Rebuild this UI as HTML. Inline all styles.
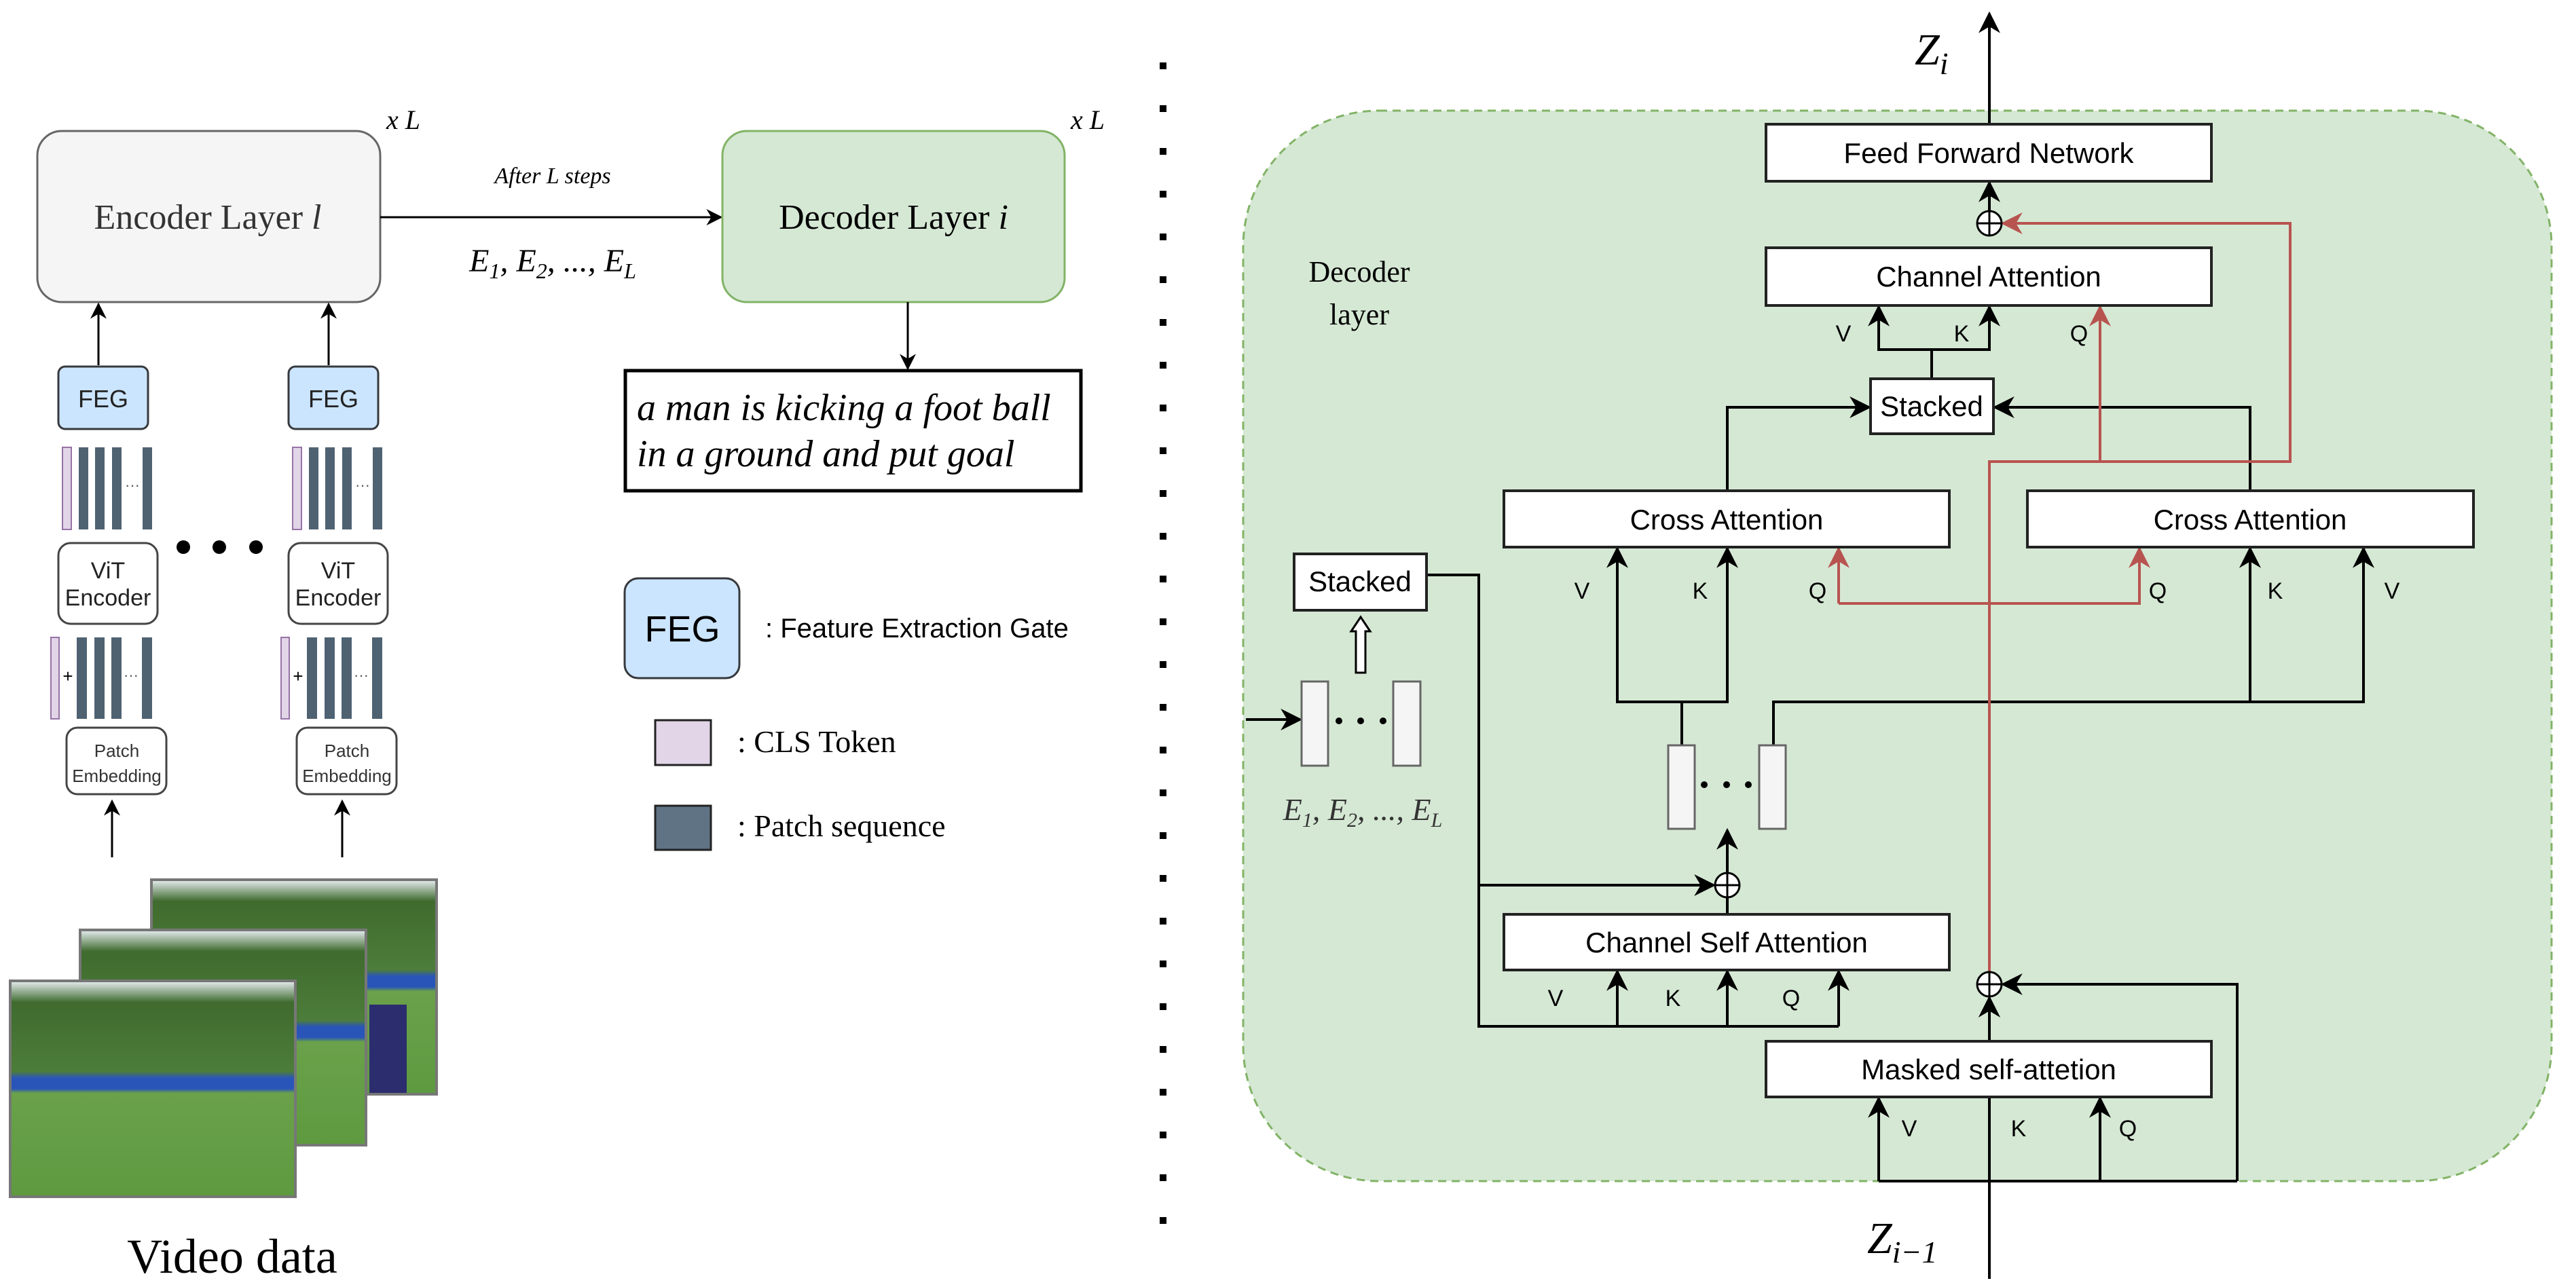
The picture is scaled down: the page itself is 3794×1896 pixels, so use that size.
<!DOCTYPE html>
<html><head><meta charset="utf-8"><style>html,body{margin:0;padding:0;background:#fff}svg{display:block}</style></head><body>
<svg xmlns="http://www.w3.org/2000/svg" width="3794" height="1896" viewBox="0 0 3794 1896">
<defs>
<marker id="ab" viewBox="0 0 10 10" refX="9" refY="5" markerWidth="8" markerHeight="8" orient="auto"><path d="M0,0 L10,5 L0,10 L3,5 z" fill="#000"/></marker>
<marker id="ar" viewBox="0 0 10 10" refX="9" refY="5" markerWidth="8" markerHeight="8" orient="auto"><path d="M0,0 L10,5 L0,10 L3,5 z" fill="#b85450"/></marker>
<linearGradient id="ph" x1="0" y1="0" x2="0" y2="1"><stop offset="0" stop-color="#e8eef2"/><stop offset="0.1" stop-color="#3f6b2e"/><stop offset="0.42" stop-color="#4d7d3a"/><stop offset="0.45" stop-color="#2a55b8"/><stop offset="0.5" stop-color="#2a55b8"/><stop offset="0.52" stop-color="#6aa14a"/><stop offset="1" stop-color="#5e9a40"/></linearGradient>
</defs>
<g font-family="Liberation Sans, sans-serif">
<!-- LEFT -->
<rect x="55" y="193" width="505" height="252" rx="36" fill="#f5f5f5" stroke="#666" stroke-width="3"/>
<text x="306" y="337" font-family="Liberation Serif, serif" font-size="52" fill="#333" text-anchor="middle">Encoder Layer <tspan font-style="italic">l</tspan></text>
<text x="569" y="190" font-family="Liberation Serif, serif" font-style="italic" font-size="40">x L</text>
<line x1="560" y1="320" x2="1062" y2="320" stroke="#000" stroke-width="3" marker-end="url(#ab)"/>
<text x="814" y="270" font-family="Liberation Serif, serif" font-style="italic" font-size="34" text-anchor="middle">After L steps</text>
<text x="814" y="400" font-family="Liberation Serif, serif" font-style="italic" font-size="48" text-anchor="middle">E<tspan font-size="32" dy="10">1</tspan><tspan dy="-10">, E</tspan><tspan font-size="32" dy="10">2</tspan><tspan dy="-10">, ..., E</tspan><tspan font-size="32" dy="10">L</tspan></text>
<rect x="1064" y="193" width="504" height="252" rx="36" fill="#d5e8d4" stroke="#82b366" stroke-width="3"/>
<text x="1316" y="337" font-family="Liberation Serif, serif" font-size="52" fill="#000" text-anchor="middle">Decoder Layer <tspan font-style="italic">i</tspan></text>
<text x="1577" y="190" font-family="Liberation Serif, serif" font-style="italic" font-size="40">x L</text>
<line x1="1337" y1="445" x2="1337" y2="543" stroke="#000" stroke-width="3" marker-end="url(#ab)"/>
<rect x="921" y="546" width="671" height="177" fill="#fff" stroke="#000" stroke-width="5"/>
<text x="938" y="619" font-family="Liberation Serif, serif" font-style="italic" font-size="56">a man is kicking a foot ball</text>
<text x="938" y="687" font-family="Liberation Serif, serif" font-style="italic" font-size="56">in a ground and put goal</text>

<g id="col">
<line x1="145" y1="538" x2="145" y2="448" stroke="#000" stroke-width="3" marker-end="url(#ab)"/>
<rect x="86" y="540" width="132" height="92" rx="10" fill="#cce5ff" stroke="#36393d" stroke-width="3"/>
<text x="152" y="600" font-size="36" text-anchor="middle" fill="#222">FEG</text>
<rect x="92" y="659" width="13" height="121" fill="#e1d5e7" stroke="#9673a6" stroke-width="2"/>
<rect x="116" y="659" width="14" height="121" fill="#4f6272"/>
<rect x="140" y="659" width="14" height="121" fill="#4f6272"/>
<rect x="165" y="659" width="14" height="121" fill="#4f6272"/>
<rect x="210" y="659" width="14" height="121" fill="#4f6272"/>
<text x="195" y="722" font-size="22" text-anchor="middle" fill="#555">···</text>
<rect x="86" y="800" width="146" height="119" rx="18" fill="#fff" stroke="#444" stroke-width="3"/>
<text x="159" y="852" font-size="34" text-anchor="middle" fill="#222">ViT</text>
<text x="159" y="892" font-size="34" text-anchor="middle" fill="#222">Encoder</text>
<rect x="75" y="939" width="12" height="120" fill="#e1d5e7" stroke="#9673a6" stroke-width="2"/>
<text x="100" y="1005" font-size="26" text-anchor="middle">+</text>
<rect x="113" y="939" width="15" height="120" fill="#4f6272"/>
<rect x="139" y="939" width="15" height="120" fill="#4f6272"/>
<rect x="164" y="939" width="15" height="120" fill="#4f6272"/>
<rect x="209" y="939" width="15" height="120" fill="#4f6272"/>
<text x="193" y="1002" font-size="22" text-anchor="middle" fill="#555">···</text>
<rect x="98" y="1072" width="147" height="98" rx="16" fill="#fff" stroke="#444" stroke-width="3"/>
<text x="172" y="1115" font-size="26" text-anchor="middle" fill="#333">Patch</text>
<text x="172" y="1152" font-size="26" text-anchor="middle" fill="#333">Embedding</text>
<line x1="165" y1="1263" x2="165" y2="1180" stroke="#000" stroke-width="3" marker-end="url(#ab)"/>
</g>
<use href="#col" transform="translate(339,0)"/>
<circle cx="270" cy="806" r="10"/><circle cx="323" cy="806" r="10"/><circle cx="377" cy="806" r="10"/>

<rect x="223" y="1296" width="420" height="316" fill="url(#ph)" stroke="#777" stroke-width="4"/>
<rect x="118" y="1370" width="421" height="317" fill="url(#ph)" stroke="#777" stroke-width="4"/>
<rect x="15" y="1445" width="420" height="318" fill="url(#ph)" stroke="#777" stroke-width="4"/>
<rect x="544" y="1480" width="55" height="130" fill="#2b2d6e"/>
<text x="342" y="1875" font-family="Liberation Serif, serif" font-size="72" text-anchor="middle">Video data</text>

<rect x="920" y="852" width="169" height="147" rx="20" fill="#cce5ff" stroke="#36393d" stroke-width="3"/>
<text x="1005" y="945" font-size="54" text-anchor="middle">FEG</text>
<text x="1127" y="939" font-size="40">: Feature Extraction Gate</text>
<rect x="965" y="1061" width="82" height="66" fill="#e1d5e7" stroke="#222" stroke-width="3"/>
<text x="1086" y="1108" font-family="Liberation Serif, serif" font-size="46">: CLS Token</text>
<rect x="965" y="1187" width="82" height="65" fill="#5f7385" stroke="#222" stroke-width="3"/>
<text x="1086" y="1232" font-family="Liberation Serif, serif" font-size="46">: Patch sequence</text>

<line x1="1713" y1="92" x2="1713" y2="1810" stroke="#000" stroke-width="10" stroke-dasharray="10 53"/>

<!-- RIGHT -->
<rect x="1831" y="163" width="1927" height="1577" rx="200" fill="#d5e8d4" stroke="#82b366" stroke-width="3" stroke-dasharray="12 8"/>
<g stroke="#000" stroke-width="4" fill="none">
<line x1="2930" y1="1884" x2="2930" y2="1470"  marker-end="url(#ab)"/>
<line x1="2930" y1="1534" x2="2930" y2="1470" marker-end="url(#ab)"/>
<polyline points="3295,1740 3295,1450 2950,1450" marker-end="url(#ab)"/>
<polyline points="2767,1740 3295,1740"/>
<line x1="2767" y1="1740" x2="2767" y2="1618" marker-end="url(#ab)"/>
<line x1="3093" y1="1740" x2="3093" y2="1618" marker-end="url(#ab)"/>
<line x1="2930" y1="183" x2="2930" y2="20" marker-end="url(#ab)"/>
<line x1="2930" y1="311" x2="2930" y2="269" marker-end="url(#ab)"/>
<polyline points="2845,558 2845,515 2767,515 2767,452" marker-end="url(#ab)"/>
<polyline points="2845,515 2930,515 2930,452" marker-end="url(#ab)"/>
<polyline points="2544,723 2544,600 2753,600" marker-end="url(#ab)"/>
<polyline points="3314,723 3314,600 2938,600" marker-end="url(#ab)"/>
<polyline points="2477,1098 2477,1034 2382,1034 2382,808" marker-end="url(#ab)"/>
<polyline points="2477,1034 2544,1034 2544,808" marker-end="url(#ab)"/>
<polyline points="2612,1098 2612,1034 3481,1034 3481,808" marker-end="url(#ab)"/>
<line x1="3314" y1="1034" x2="3314" y2="808" marker-end="url(#ab)"/>
<line x1="2544" y1="1286" x2="2544" y2="1223" marker-end="url(#ab)"/>
<polyline points="2101,847 2178,847 2178,1512 2708,1512"/>
<line x1="2382" y1="1512" x2="2382" y2="1431" marker-end="url(#ab)"/>
<line x1="2544" y1="1512" x2="2544" y2="1431" marker-end="url(#ab)"/>
<line x1="2708" y1="1512" x2="2708" y2="1431" marker-end="url(#ab)"/>
<polyline points="2178,1304 2524,1304" marker-end="url(#ab)"/>
<line x1="2544" y1="1347" x2="2544" y2="1322"/>
<line x1="1835" y1="1060" x2="1915" y2="1060" marker-end="url(#ab)"/>
</g>
<g stroke="#b85450" stroke-width="4" fill="none">
<polyline points="2930,1432 2930,680 3373,680 3373,329 2950,329" marker-end="url(#ar)"/>
<line x1="3093" y1="680" x2="3093" y2="452" marker-end="url(#ar)"/>
<polyline points="2708,889 3151,889 3151,808" marker-end="url(#ar)"/>
<line x1="2708" y1="889" x2="2708" y2="808" marker-end="url(#ar)"/>
</g>
<path d="M1997,991 V930 H1990 L2004,909 L2018,930 H2011 V991 Z" fill="#fff" stroke="#000" stroke-width="3"/>
<g fill="#fff" stroke="#000" stroke-width="3">
<circle cx="2930" cy="329" r="18"/><circle cx="2930" cy="1450" r="18"/><circle cx="2544" cy="1304" r="18"/>
</g>
<g stroke="#000" stroke-width="3">
<path d="M2912,329H2948M2930,311V347M2912,1450H2948M2930,1432V1468M2526,1304H2562M2544,1286V1322"/>
</g>
<g fill="#fff" stroke="#222" stroke-width="4">
<rect x="2601" y="183" width="656" height="84"/>
<rect x="2601" y="365" width="656" height="85"/>
<rect x="2755" y="558" width="181" height="81"/>
<rect x="2215" y="723" width="656" height="83"/>
<rect x="2986" y="723" width="657" height="83"/>
<rect x="1906" y="816" width="195" height="83"/>
<rect x="2215" y="1347" width="656" height="82"/>
<rect x="2601" y="1534" width="656" height="82"/>
</g>
<g fill="#f5f5f5" stroke="#666" stroke-width="3">
<rect x="2457" y="1098" width="39" height="123"/><rect x="2591" y="1098" width="39" height="123"/>
<rect x="1917" y="1004" width="39" height="124"/><rect x="2052" y="1004" width="40" height="124"/>
</g>
<g fill="#000"><circle cx="2510" cy="1156" r="5"/><circle cx="2543" cy="1156" r="5"/><circle cx="2575" cy="1156" r="5"/>
<circle cx="1972" cy="1062" r="5"/><circle cx="2004" cy="1062" r="5"/><circle cx="2037" cy="1062" r="5"/></g>
<g font-size="42" text-anchor="middle">
<text x="2929" y="240">Feed Forward Network</text>
<text x="2929" y="422">Channel Attention</text>
<text x="2845" y="613">Stacked</text>
<text x="2543" y="780">Cross Attention</text>
<text x="3314" y="780">Cross Attention</text>
<text x="2003" y="871">Stacked</text>
<text x="2543" y="1403">Channel Self Attention</text>
<text x="2929" y="1590">Masked self-attetion</text>
</g>
<g font-size="34" text-anchor="middle">
<text x="2715" y="503">V</text><text x="2889" y="503">K</text><text x="3062" y="503">Q</text>
<text x="2330" y="882">V</text><text x="2504" y="882">K</text><text x="2677" y="882">Q</text>
<text x="3178" y="882">Q</text><text x="3351" y="882">K</text><text x="3523" y="882">V</text>
<text x="2291" y="1482">V</text><text x="2464" y="1482">K</text><text x="2638" y="1482">Q</text>
<text x="2812" y="1674">V</text><text x="2973" y="1674">K</text><text x="3134" y="1674">Q</text>
</g>
<g font-family="Liberation Serif, serif">
<text x="2002" y="415" font-size="44" text-anchor="middle">Decoder</text>
<text x="2002" y="478" font-size="44" text-anchor="middle">layer</text>
<text x="2007" y="1208" font-size="46" font-style="italic" text-anchor="middle" fill="#333">E<tspan font-size="30" dy="10">1</tspan><tspan dy="-10">, E</tspan><tspan font-size="30" dy="10">2</tspan><tspan dy="-10">, ..., E</tspan><tspan font-size="30" dy="10">L</tspan></text>
<text x="2820" y="95" font-size="66" font-style="italic">Z<tspan font-size="46" dy="14">i</tspan></text>
<text x="2750" y="1846" font-size="66" font-style="italic">Z<tspan font-size="46" dy="14">i−1</tspan></text>
</g>
</g>
</svg>
</body></html>
